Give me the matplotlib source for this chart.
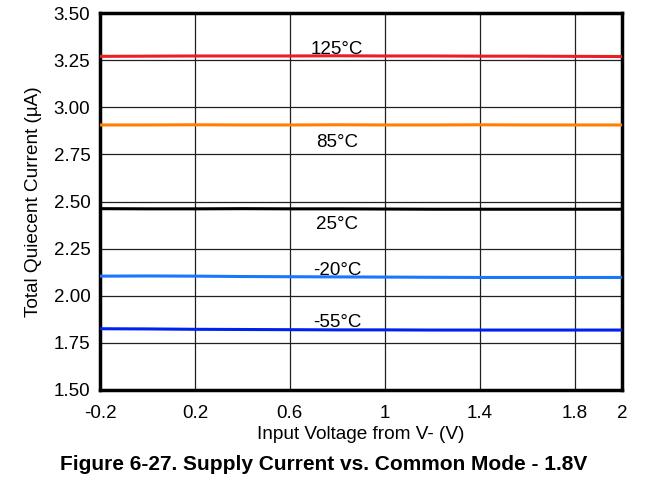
import numpy as np
import matplotlib.pyplot as plt

plt.rcParams['font.family'] = ['Liberation Sans', 'DejaVu Sans']

# 入力電圧 [V]
vin = [-0.2, 0.0, 0.2, 0.4, 0.6, 0.8, 1.0, 1.2, 1.4, 1.6, 1.8, 2.0]

# 各温度の消費電流 [uA]
i_125 = [3.270, 3.271, 3.272, 3.272, 3.272, 3.273, 3.272, 3.272, 3.271, 3.271, 3.270, 3.269]
i_85 = [2.906, 2.906, 2.907, 2.906, 2.906, 2.907, 2.906, 2.906, 2.907, 2.906, 2.906, 2.906]
i_25 = [2.462, 2.461, 2.461, 2.462, 2.461, 2.461, 2.460, 2.459, 2.459, 2.459, 2.459, 2.459]
i_m20 = [2.104, 2.105, 2.104, 2.102, 2.101, 2.100, 2.099, 2.098, 2.097, 2.097, 2.097, 2.097]
i_m55 = [1.825, 1.824, 1.822, 1.821, 1.820, 1.819, 1.819, 1.818, 1.818, 1.818, 1.818, 1.818]

series = [
    (i_125, '#ee1c25', '125°C', 3.305),
    (i_85, '#ff8000', '85°C', 2.812),
    (i_25, '#000000', '25°C', 2.380),
    (i_m20, '#1a75ff', '-20°C', 2.135),
    (i_m55, '#0022ee', '-55°C', 1.860),
]

xticks = [-0.2, 0.2, 0.6, 1.0, 1.4, 1.8, 2.0]
xticklabels = ['-0.2', '0.2', '0.6', '1', '1.4', '1.8', '2']
yticks = [1.50, 1.75, 2.00, 2.25, 2.50, 2.75, 3.00, 3.25, 3.50]


def main():
    fig = plt.figure(figsize=(6.53, 4.87), dpi=100)
    ax = fig.add_axes([100 / 653, 1 - 390 / 487, 522 / 653, 377 / 487])

    for i, c, lab, ly in series:
        ax.plot(vin, i, color=c, lw=2.2, zorder=3)
        ax.text(0.8, ly, lab, ha='center', va='center', fontsize=13.5, zorder=4)

    ax.set_xlim(-0.2, 2.0)
    ax.set_ylim(1.5, 3.5)
    ax.set_xticks(xticks)
    ax.set_xticklabels(xticklabels)
    ax.set_yticks(yticks)
    ax.set_yticklabels(['%.2f' % v for v in yticks])
    ax.tick_params(axis='y', length=0, labelsize=13.5, pad=7)
    ax.tick_params(axis='x', length=0, labelsize=13.5, pad=11)
    ax.grid(True, color='#202020', lw=0.9)
    ax.xaxis.get_gridlines()[-1].set_visible(False)
    for s in ax.spines.values():
        s.set_linewidth(2.5)

    ax.set_xlabel('Input Voltage from V- (V)', fontsize=13.7, labelpad=3)
    ax.set_ylabel('Total Quiecent Current (µA)', fontsize=13.7, labelpad=8)
    fig.text(324 / 653, 1 - 465 / 487, 'Figure 6-27. Supply Current vs. Common Mode - 1.8V',
             ha='center', va='center', fontsize=15, fontweight='bold')

    fig.savefig('out.png', dpi=100)


if __name__ == '__main__':
    main()
